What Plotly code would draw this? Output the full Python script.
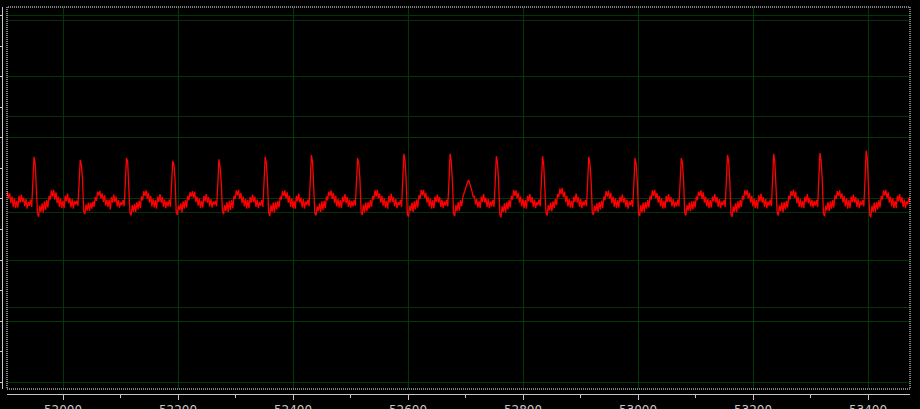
import plotly.graph_objects as go

# ---- data ----
X_START = 51901.36     # x of first sample
SAMPLE_STEP = 2.01     # x distance between samples

x_ticks = [52000, 52200, 52400, 52600, 52800, 53000, 53200, 53400]
x_tick_labels = ["52000", "52200", "52400", "52600", "52800", "53000", "53200", "53400"]

signal_start = [0.05, 0.12, 0.01, 0.09, -0.07, 0.04, -0.13, 0.01, -0.15, -0.03,
                -0.14, 0.05, -0.06, 0.07, -0.05, 0.02, -0.12, 0.00, -0.16, -0.05]

beats = [
    [-0.11, -0.01, -0.13, 0.28, 0.69, 0.58, 0.26, -0.24, -0.29, -0.11, -0.21, -0.07, -0.22, -0.04, -0.18, -0.02, -0.14, 0.05, -0.01, 0.14, 0.04, 0.15, -0.01, 0.11, -0.07, 0.04, -0.13, 0.01, -0.15, -0.03, -0.15, 0.05, -0.04, 0.09, -0.07, 0.02, -0.14, 0.00, -0.16, -0.03],
    [-0.09, -0.03, -0.11, 0.22, 0.64, 0.55, 0.31, -0.20, -0.25, -0.09, -0.19, -0.06, -0.20, -0.06, -0.16, -0.04, -0.13, 0.03, -0.03, 0.12, 0.06, 0.13, 0.01, 0.09, -0.05, 0.06, -0.11, -0.01, -0.13, -0.01, -0.17, 0.03, -0.06, 0.07, -0.05, 0.04, -0.12, -0.02, -0.14, -0.05],
    [-0.10, -0.02, -0.12, 0.26, 0.67, 0.61, 0.28, -0.23, -0.27, -0.10, -0.21, -0.08, -0.21, -0.05, -0.17, -0.03, -0.15, 0.04, -0.02, 0.13, 0.05, 0.14, 0.00, 0.10, -0.06, 0.05, -0.12, 0.00, -0.14, -0.02, -0.16, 0.04, -0.05, 0.08, -0.06, 0.03, -0.13, -0.01, -0.15, -0.04],
    [-0.12, -0.01, -0.13, 0.21, 0.62, 0.57, 0.33, -0.21, -0.26, -0.11, -0.18, -0.07, -0.22, -0.04, -0.16, -0.02, -0.14, 0.05, -0.02, 0.11, 0.04, 0.13, 0.02, 0.12, -0.05, 0.04, -0.11, 0.01, -0.15, -0.03, -0.14, 0.05, -0.04, 0.08, -0.06, 0.03, -0.12, 0.00, -0.14, -0.04],
    [-0.09, -0.03, -0.12, 0.24, 0.65, 0.52, 0.27, -0.19, -0.25, -0.10, -0.20, -0.05, -0.21, -0.03, -0.18, -0.02, -0.15, 0.05, 0.00, 0.14, 0.06, 0.15, 0.00, 0.10, -0.07, 0.04, -0.12, 0.00, -0.16, -0.02, -0.15, 0.03, -0.06, 0.07, -0.05, 0.04, -0.13, -0.01, -0.15, -0.05],
    [-0.11, -0.02, -0.13, 0.27, 0.69, 0.59, 0.29, -0.23, -0.28, -0.10, -0.21, -0.06, -0.22, -0.05, -0.17, -0.03, -0.14, 0.04, -0.01, 0.13, 0.05, 0.14, 0.01, 0.11, -0.06, 0.05, -0.13, 0.01, -0.15, -0.03, -0.16, 0.05, -0.04, 0.09, -0.06, 0.02, -0.14, 0.00, -0.16, -0.04],
    [-0.10, -0.01, -0.12, 0.29, 0.72, 0.60, 0.27, -0.24, -0.27, -0.12, -0.20, -0.07, -0.21, -0.04, -0.18, -0.03, -0.15, 0.04, -0.02, 0.12, 0.05, 0.14, 0.00, 0.10, -0.07, 0.05, -0.12, 0.00, -0.14, -0.02, -0.15, 0.04, -0.05, 0.08, -0.07, 0.03, -0.13, -0.01, -0.14, -0.03],
    [-0.12, -0.02, -0.11, 0.25, 0.67, 0.58, 0.32, -0.22, -0.26, -0.09, -0.22, -0.06, -0.20, -0.05, -0.16, -0.02, -0.13, 0.05, -0.01, 0.14, 0.04, 0.15, 0.01, 0.09, -0.06, 0.05, -0.11, 0.01, -0.14, -0.03, -0.16, 0.05, -0.06, 0.09, -0.05, 0.03, -0.12, 0.00, -0.15, -0.05],
    [-0.10, -0.02, -0.13, 0.30, 0.74, 0.63, 0.30, -0.25, -0.29, -0.11, -0.20, -0.06, -0.21, -0.04, -0.17, -0.01, -0.14, 0.06, 0.00, 0.15, 0.06, 0.15, 0.02, 0.10, -0.06, 0.04, -0.12, 0.01, -0.16, -0.02, -0.15, 0.04, -0.05, 0.07, -0.06, 0.03, -0.13, -0.01, -0.15, -0.04],
    [-0.11, -0.01, -0.12, 0.29, 0.74, 0.61, 0.29, -0.24, -0.28, -0.10, -0.20, -0.05, -0.19, -0.02, -0.12, 0.03, 0.10, 0.15, 0.22, 0.27, 0.31, 0.26, 0.19, 0.12, 0.03, 0.05, -0.09, 0.00, -0.14, -0.03, -0.15, 0.04, -0.05, 0.08, -0.06, 0.02, -0.13, 0.00, -0.15, -0.04],
    [-0.12, -0.02, -0.13, 0.27, 0.70, 0.59, 0.28, -0.25, -0.30, -0.12, -0.21, -0.07, -0.22, -0.05, -0.17, -0.02, -0.14, 0.05, -0.01, 0.15, 0.05, 0.14, 0.01, 0.10, -0.06, 0.04, -0.12, 0.00, -0.15, -0.02, -0.16, 0.05, -0.04, 0.08, -0.06, 0.03, -0.13, -0.01, -0.15, -0.05],
    [-0.10, -0.01, -0.12, 0.28, 0.70, 0.56, 0.26, -0.23, -0.27, -0.10, -0.19, -0.06, -0.20, -0.04, -0.15, 0.00, -0.10, 0.08, 0.03, 0.17, 0.08, 0.18, 0.03, 0.12, -0.05, 0.05, -0.12, 0.00, -0.14, -0.03, -0.15, 0.04, -0.05, 0.09, -0.06, 0.03, -0.13, 0.00, -0.15, -0.04],
    [-0.11, -0.02, -0.12, 0.26, 0.69, 0.58, 0.30, -0.22, -0.26, -0.11, -0.20, -0.07, -0.21, -0.05, -0.17, -0.03, -0.15, 0.04, -0.02, 0.13, 0.04, 0.14, 0.00, 0.10, -0.07, 0.04, -0.13, 0.01, -0.15, -0.02, -0.14, 0.04, -0.05, 0.07, -0.06, 0.02, -0.13, -0.01, -0.16, -0.04],
    [-0.10, -0.02, -0.13, 0.25, 0.67, 0.57, 0.28, -0.24, -0.28, -0.10, -0.22, -0.06, -0.21, -0.05, -0.16, -0.02, -0.14, 0.05, -0.01, 0.14, 0.05, 0.15, 0.01, 0.10, -0.06, 0.05, -0.12, 0.01, -0.16, -0.03, -0.15, 0.05, -0.05, 0.08, -0.05, 0.03, -0.12, 0.00, -0.14, -0.05],
    [-0.12, -0.01, -0.12, 0.26, 0.67, 0.59, 0.31, -0.23, -0.27, -0.10, -0.19, -0.06, -0.20, -0.04, -0.17, -0.03, -0.14, 0.04, -0.02, 0.12, 0.05, 0.14, 0.00, 0.11, -0.06, 0.04, -0.12, 0.00, -0.15, -0.02, -0.14, 0.04, -0.04, 0.08, -0.06, 0.03, -0.13, 0.00, -0.15, -0.04],
    [-0.10, -0.02, -0.13, 0.28, 0.72, 0.62, 0.30, -0.25, -0.29, -0.12, -0.21, -0.07, -0.21, -0.04, -0.16, -0.02, -0.13, 0.05, -0.01, 0.14, 0.06, 0.15, 0.01, 0.10, -0.06, 0.05, -0.12, 0.01, -0.15, -0.02, -0.16, 0.06, -0.04, 0.09, -0.06, 0.03, -0.13, 0.00, -0.15, -0.04],
    [-0.11, -0.01, -0.12, 0.30, 0.74, 0.60, 0.28, -0.23, -0.27, -0.11, -0.20, -0.06, -0.22, -0.05, -0.17, -0.03, -0.14, 0.05, -0.01, 0.13, 0.05, 0.15, 0.02, 0.12, -0.07, 0.04, -0.13, 0.00, -0.14, -0.03, -0.15, 0.04, -0.05, 0.08, -0.07, 0.02, -0.12, -0.01, -0.14, -0.03],
    [-0.11, -0.02, -0.13, 0.30, 0.75, 0.63, 0.31, -0.24, -0.28, -0.11, -0.19, -0.05, -0.20, -0.04, -0.16, -0.02, -0.14, 0.06, 0.00, 0.13, 0.05, 0.14, 0.01, 0.09, -0.06, 0.05, -0.12, 0.01, -0.16, -0.02, -0.15, 0.04, -0.05, 0.07, -0.06, 0.03, -0.13, 0.00, -0.15, -0.04],
    [-0.10, -0.02, -0.12, 0.32, 0.79, 0.65, 0.30, -0.26, -0.30, -0.11, -0.21, -0.06, -0.21, -0.05, -0.17, -0.02, -0.14, 0.05, -0.01, 0.14, 0.06, 0.15, 0.01, 0.11, -0.06, 0.04, -0.12, 0.01, -0.15, -0.03, -0.15, 0.05, -0.04, 0.08, -0.06, 0.03, -0.13, -0.01, -0.15, -0.04],
]

signal_end = [-0.09, 0.02, -0.05, 0.20]

signal = signal_start + [v for beat in beats for v in beat] + signal_end
x_values = [X_START + i * SAMPLE_STEP for i in range(len(signal))]

X_RANGE = [51902.6, 53473.0]
Y_RANGE = [-3.11, 3.142]
Y2_RANGE = [-1.851, 2.144]

GRID = "#013801"
GRID2 = "#0c2c0c"
AXIS = "#c8c8c8"

fig = go.Figure()
fig.add_trace(go.Scatter(
    x=x_values, y=signal, mode="lines",
    line=dict(color="#ff0000", width=1.3),
    showlegend=False, hoverinfo="skip",
))
fig.add_trace(go.Scatter(
    x=[X_RANGE[0]], y=[Y2_RANGE[0] - 10], yaxis="y2", mode="lines",
    showlegend=False, hoverinfo="skip",
))

fig.update_layout(
    width=920, height=409,
    margin=dict(l=2, r=10, t=7, b=15, autoexpand=False),
    paper_bgcolor="#000000",
    plot_bgcolor="#000000",
    xaxis=dict(
        range=X_RANGE, domain=[5 / 908, 1],
        anchor="free", position=0,
        tickvals=x_ticks, ticktext=x_tick_labels,
        ticks="outside", ticklen=5, tickcolor=AXIS, tickwidth=1,
        minor=dict(dtick=100, ticks="outside", ticklen=3, tickcolor=AXIS, showgrid=False),
        showline=True, linecolor=AXIS, linewidth=1,
        showgrid=True, gridcolor=GRID, gridwidth=1,
        zeroline=False, automargin=False,
        tickfont=dict(family="DejaVu Sans", size=12, color="#c8c8c8"),
    ),
    yaxis=dict(
        range=Y_RANGE, domain=[5 / 387, 1],
        anchor="free", position=0,
        tick0=0, dtick=1,
        ticks="outside", ticklen=3, tickcolor=AXIS, tickwidth=1,
        minor=dict(dtick=0.5, ticks="outside", ticklen=3, tickcolor=AXIS, showgrid=False),
        showline=True, linecolor=AXIS, linewidth=1,
        showgrid=True, gridcolor=GRID, gridwidth=1,
        zeroline=False, showticklabels=False, automargin=False,
    ),
    yaxis2=dict(
        range=Y2_RANGE, overlaying="y", anchor="x",
        tick0=0, dtick=1,
        showgrid=True, gridcolor=GRID2, gridwidth=1,
        showline=False, ticks="", showticklabels=False, zeroline=False,
        automargin=False,
    ),
    shapes=[dict(
        type="rect", xref="x domain", yref="y domain",
        x0=0, x1=1, y0=0, y1=1,
        line=dict(color="#ffffff", width=1, dash="1px,1px"),
        layer="above",
    )],
)

fig.write_html(
    "out.html",
    config={"displayModeBar": False},
    post_script="document.body.style.margin='0';document.body.style.background='#000';",
)
